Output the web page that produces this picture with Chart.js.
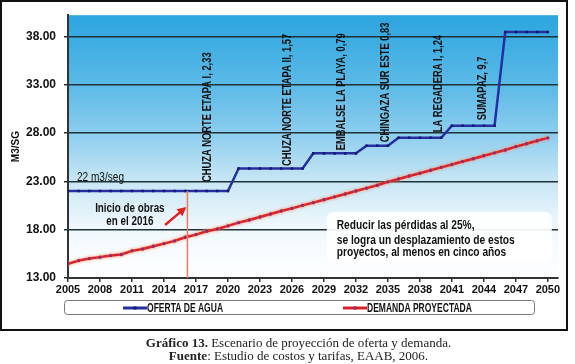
<!DOCTYPE html>
<html><head><meta charset="utf-8">
<script src="https://cdn.jsdelivr.net/npm/chart.js@4"></script>
<style>
html,body{margin:0;padding:0;background:#fff;}
#wrap{position:relative;width:575px;height:364px;overflow:hidden;background:#fff;}
#c{position:absolute;left:0;top:0;}
#cap{position:absolute;left:0;top:336px;width:575px;padding-left:22px;box-sizing:border-box;text-align:center;font-family:'Liberation Serif','Times New Roman',serif;font-size:13px;line-height:13px;color:#222;}
</style></head><body>
<div id="wrap"><canvas id="c" width="575" height="364"></canvas>
<div id="cap"><b>Gráfico 13.</b> Escenario de proyección de oferta y demanda.<br><b>Fuente</b>: Estudio de costos y tarifas, EAAB, 2006.</div></div>
<script>
// ---- data ----
const years = [2005,2006,2007,2008,2009,2010,2011,2012,2013,2014,2015,2016,2017,2018,2019,2020,
  2021,2022,2023,2024,2025,2026,2027,2028,2029,2030,2031,2032,2033,2034,2035,2036,2037,2038,2039,2040,
  2041,2042,2043,2044,2045,2046,2047,2048,2049,2050];
const oferta = [22,22,22,22,22,22,22,22,22,22,22,22,22,22,22,22,
  24.33,24.33,24.33,24.33,24.33,24.33,24.33,25.9,25.9,25.9,25.9,25.9,26.69,26.69,26.69,
  27.52,27.52,27.52,27.52,27.52,28.76,28.76,28.76,28.76,28.76,38.46,38.46,38.46,38.46,38.46];
const demanda = [14.47,14.8,15.01,15.16,15.32,15.43,15.81,16.0,16.29,16.56,16.84,17.22,17.49,17.84,18.08,18.39,
  18.73,19.0,19.32,19.63,19.93,20.21,20.52,20.8,21.1,21.4,21.7,22.0,22.3,22.6,22.95,23.25,23.55,23.85,24.15,24.45,
  24.75,25.05,25.35,25.65,25.95,26.25,26.6,26.9,27.2,27.5];
const seriesLabels = ['OFERTA DE AGUA','DEMANDA PROYECTADA'];
const xTickYears = [2005,2008,2011,2014,2017,2020,2023,2026,2029,2032,2035,2038,2041,2044,2047,2050];
const yTickValues = [13,18,23,28,33,38];
const yAxisTitle = 'M3/SG';
const projectLabels = ['CHUZA NORTE ETAPA I, 2,33','CHUZA NORTE ETAPA II, 1,57','EMBALSE LA PLAYA, 0,79',
  'CHINGAZA SUR ESTE 0,83','LA REGADERA I, 1,24','SUMAPAZ, 9,7'];
const baseLabel = '22 m3/seg';
const startLabel = ['Inicio de obras','en el 2016'];
const startYear = 2016;
const noteLines = ['Reducir las pérdidas al 25%,','se logra un desplazamiento de estos','proyectos, al menos en cinco años'];

// ---- annotation placement (data coordinates) ----
const projectAnchorX = [2018.1,2025.6,2030.7,2034.8,2039.8,2043.9];
const projectAnchorY = [22.93,24.58,26.23,27.06,28.09,29.33];

const FAM = '"Liberation Sans",Arial,sans-serif';
Chart.defaults.font.family = FAM;

function narrow(ctx, text, x, y, align, sx, rot){
  ctx.save();
  ctx.translate(x,y);
  if(rot) ctx.rotate(rot);
  ctx.scale(sx,1);
  ctx.textAlign=align;
  ctx.fillText(text,0,0);
  ctx.restore();
}

const bgPlugin = {
  id:'bg',
  beforeDraw(chart){
    const {ctx, chartArea:a} = chart;
    ctx.save();
    ctx.fillStyle='#fff'; ctx.fillRect(0,0,chart.width,chart.height);
    const g = ctx.createLinearGradient(0,a.top,0,a.bottom);
    g.addColorStop(0,'#2ca5df'); g.addColorStop(0.28,'#5ebbe7'); g.addColorStop(0.45,'#8ccdee');
    g.addColorStop(0.63,'#c8e6f5'); g.addColorStop(0.8,'#eef7fc'); g.addColorStop(1,'#ffffff');
    ctx.fillStyle=g; ctx.fillRect(a.left,a.top,a.right-a.left,a.bottom-a.top);
    ctx.restore();
  },
  afterDraw(chart){
    const ctx = chart.ctx;
    ctx.save();
    // outer frame
    ctx.strokeStyle='#111'; ctx.lineWidth=2;
    ctx.strokeRect(1,1,566,329);
    // legend
    ctx.strokeStyle='#777'; ctx.lineWidth=1;
    ctx.beginPath(); ctx.roundRect(64.5,300.5,470,14,3); ctx.stroke();
    const items = [{x0:123,x1:147},{x0:343,x1:367}];
    chart.data.datasets.forEach((ds,i)=>{
      const it = items[i], y=308;
      ctx.strokeStyle=ds.borderColor; ctx.lineWidth=3;
      ctx.beginPath(); ctx.moveTo(it.x0,y); ctx.lineTo(it.x1,y); ctx.stroke();
      ctx.fillStyle=ds.pointBackgroundColor;
      ctx.fillRect((it.x0+it.x1)/2-1.5,y-1.5,3,3);
      ctx.fillStyle='#111'; ctx.font='bold 12px '+FAM;
      ctx.textBaseline='middle';
      narrow(ctx, ds.label, it.x1, y+0.5, 'left', 0.71);
    });
    ctx.restore();
  }
};

const annoPlugin = {
  id:'anno',
  afterDatasetsDraw(chart){
    const {ctx, scales:{x,y}} = chart;
    ctx.save();
    ctx.fillStyle='#111';
    ctx.font='bold 12px '+FAM;
    ctx.textBaseline='middle';
    projectLabels.forEach((t,i)=>{
      narrow(ctx, t, x.getPixelForValue(projectAnchorX[i]), y.getPixelForValue(projectAnchorY[i]), 'left', 0.78, -Math.PI/2);
    });
    // base label
    ctx.font='12px '+FAM;
    narrow(ctx, baseLabel, x.getPixelForValue(2005.84), y.getPixelForValue(23.34), 'left', 0.84);
    // start of works
    ctx.font='bold 12px '+FAM;
    narrow(ctx, startLabel[0], x.getPixelForValue(2010.8), y.getPixelForValue(20.14), 'center', 0.82);
    narrow(ctx, startLabel[1], x.getPixelForValue(2010.8), y.getPixelForValue(18.8), 'center', 0.82);
    // vertical line at 2016
    const vx = x.getPixelForValue(startYear+0.2);
    ctx.strokeStyle='#ef7a5e'; ctx.lineWidth=1.5;
    ctx.beginPath(); ctx.moveTo(vx,y.getPixelForValue(22)); ctx.lineTo(vx,y.getPixelForValue(13)); ctx.stroke();
    // arrow
    const ax0=x.getPixelForValue(2014.1), ay0=y.getPixelForValue(18.49);
    const ax1=x.getPixelForValue(2016.1), ay1=y.getPixelForValue(20.35);
    const ang=Math.atan2(ay1-ay0,ax1-ax0);
    ctx.strokeStyle='#e0241f'; ctx.fillStyle='#e0241f'; ctx.lineWidth=2.5;
    ctx.beginPath(); ctx.moveTo(ax0,ay0); ctx.lineTo(ax1-6*Math.cos(ang),ay1-6*Math.sin(ang)); ctx.stroke();
    ctx.beginPath(); ctx.moveTo(ax1,ay1);
    ctx.lineTo(ax1-9*Math.cos(ang)+4.5*Math.sin(ang), ay1-9*Math.sin(ang)-4.5*Math.cos(ang));
    ctx.lineTo(ax1-9*Math.cos(ang)-4.5*Math.sin(ang), ay1-9*Math.sin(ang)+4.5*Math.cos(ang));
    ctx.closePath(); ctx.fill();
    // note box
    const bx0=x.getPixelForValue(2029.27), bx1=x.getPixelForValue(2050.37);
    const by0=y.getPixelForValue(19.86), by1=y.getPixelForValue(14.54);
    ctx.fillStyle='rgba(255,255,255,0.92)';
    ctx.beginPath(); ctx.roundRect(bx0,by0,bx1-bx0,by1-by0,7); ctx.fill();
    ctx.fillStyle='#111'; ctx.font='bold 12px '+FAM;
    const tx=x.getPixelForValue(2030.2);
    [18.42,16.91,15.57].forEach((v,i)=>narrow(ctx, noteLines[i], tx, y.getPixelForValue(v), 'left', 0.85));
    ctx.restore();
  }
};

const glowPlugin = {
  id:'glow',
  beforeDatasetDraw(chart,args){
    if(args.index===1){ const c=chart.ctx; c.save(); c.shadowColor='rgba(255,140,90,0.9)'; c.shadowBlur=3; }
  },
  afterDatasetDraw(chart,args){ if(args.index===1) chart.ctx.restore(); }
};

new Chart(document.getElementById('c'),{
  type:'line',
  data:{datasets:[
    {label:seriesLabels[0], data:years.map((yr,i)=>({x:yr,y:oferta[i]})),
     borderColor:'#2430a2', borderWidth:2.5, pointStyle:'rect', pointRadius:1.8,
     pointBackgroundColor:'#1a1a6e', pointBorderColor:'#1a1a6e', pointBorderWidth:0, tension:0},
    {label:seriesLabels[1], data:years.map((yr,i)=>({x:yr,y:demanda[i]})),
     borderColor:'#dc1f26', borderWidth:2.5, pointStyle:'circle', pointRadius:1.7,
     pointBackgroundColor:'#8e2a6e', pointBorderColor:'#8e2a6e', pointBorderWidth:0, tension:0}
  ]},
  options:{
    responsive:false, animation:false, devicePixelRatio:1,
    layout:{padding:{left:0,top:15,right:17,bottom:66}},
    plugins:{legend:{display:false}, tooltip:{enabled:false}},
    scales:{
      x:{type:'linear', min:2005, max:2050.95,
        afterBuildTicks:s=>{s.ticks=xTickYears.map(v=>({value:v}));},
        afterFit:s=>{s.height=20;},
        ticks:{callback:v=>String(v), color:'#111', font:{size:11,weight:'bold'}, padding:1, maxRotation:0, autoSkip:false},
        grid:{drawOnChartArea:false, drawTicks:true, tickLength:4, color:'#333', lineWidth:1.5},
        border:{display:true, color:'#333', width:2}
      },
      y:{min:13, max:40.2,
        afterBuildTicks:s=>{s.ticks=yTickValues.map(v=>({value:v}));},
        afterFit:s=>{s.width=68;},
        ticks:{callback:v=>Number(v).toFixed(2), color:'#111', font:{size:12,weight:'bold'}, padding:8},
        grid:{color:'#1d3338', lineWidth:1.5, drawTicks:true, tickLength:4},
        border:{display:true, color:'#333', width:2},
        title:{display:true, text:yAxisTitle, color:'#111', font:{size:10,weight:'bold'}, padding:{top:10,bottom:0}}
      }
    }
  },
  plugins:[bgPlugin, annoPlugin, glowPlugin]
});
</script>
</body></html>
